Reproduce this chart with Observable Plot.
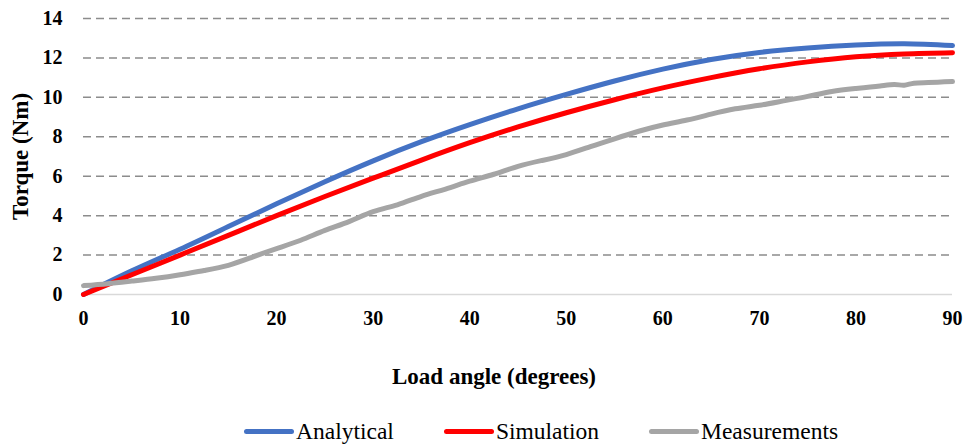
<!DOCTYPE html>
<html><head><meta charset="utf-8">
<script src="https://cdn.jsdelivr.net/npm/d3@7"></script>
<script src="https://cdn.jsdelivr.net/npm/@observablehq/plot@0.6"></script>
<style>
body{margin:0;background:#fff;font-family:"Liberation Serif","Tinos","Nimbus Roman","FreeSerif","Times","DejaVu Serif","Liberation Sans",serif;}
#legend{display:flex;gap:50px;padding-left:244px;height:30px;align-items:center;font-size:23.5px;color:#000;}
.item{display:flex;align-items:center;gap:2px;}
.sw{width:50px;height:5px;border-radius:2.5px;}
</style></head><body>
<div id="chart"></div>
<div id="legend"></div>
<script>
// ---- data ----
const xTicks = [0,10,20,30,40,50,60,70,80,90];
const yTicks = [0,2,4,6,8,10,12,14];
const seriesNames = ["Analytical","Simulation","Measurements"];
const seriesColors = ["#4472C4","#FF0000","#A5A5A5"];

const modelAngles = [0,5,10,15,20,25,30,35,40,45,50,55,60,65,70,75,80,85,90];
const analytical = [0,1.2,2.3,3.45,4.6,5.72,6.78,7.75,8.62,9.42,10.15,10.83,11.43,11.92,12.28,12.5,12.65,12.72,12.63];
const simulation = [0,1.0,2.0,3.0,4.0,4.97,5.9,6.82,7.7,8.5,9.22,9.88,10.48,11.0,11.45,11.8,12.06,12.2,12.26];

const measAngles = [0,2.5,5,7.5,10,12.5,15,17.5,20,22.5,25,27.5,30,32.5,35,37.5,40,42.5,45,47.5,50,52.5,55,57.5,60,62.5,65,67.5,70,72.5,75,77.5,80,82.5,84,85,86,87.5,90];
const measurements = [0.45,0.55,0.68,0.82,1.0,1.22,1.48,1.9,2.33,2.75,3.25,3.7,4.2,4.55,4.98,5.35,5.75,6.1,6.5,6.8,7.1,7.5,7.9,8.28,8.6,8.85,9.15,9.42,9.6,9.82,10.05,10.3,10.45,10.58,10.65,10.62,10.72,10.75,10.8];

const xLabel = "Load angle (degrees)";
const yLabel = "Torque (Nm)";

// ---- tables ----
const rows = [
  ...modelAngles.map((a,i)=>({s:seriesNames[0],x:a,y:analytical[i]})),
  ...modelAngles.map((a,i)=>({s:seriesNames[1],x:a,y:simulation[i]})),
  ...measAngles.map((a,i)=>({s:seriesNames[2],x:a,y:measurements[i]}))
];

const FONT = "'Liberation Serif','Tinos','Nimbus Roman','FreeSerif','Times','DejaVu Serif','Liberation Sans',serif";
const plot = Plot.plot({
  width:964, height:416,
  marginLeft:83, marginRight:12, marginTop:18, marginBottom:122,
  style:{fontFamily:FONT, background:"#fff", color:"#000", overflow:"visible"},
  x:{domain:[0,90]},
  y:{domain:[0,14]},
  color:{domain:seriesNames, range:seriesColors},
  marks:[
    Plot.ruleY(yTicks.filter(d=>d>0), {stroke:"#8c8c8c", strokeWidth:1.5, strokeDasharray:"8,5"}),
    Plot.ruleY([0], {stroke:"#d9d9d9", strokeWidth:1.5}),
    ...seriesNames.map(n => Plot.line(rows.filter(r=>r.s===n), {x:"x", y:"y", stroke:"s", strokeWidth:5, curve:"natural"})),
    Plot.axisX({ticks:xTicks, tickSize:0, tickPadding:16, fontSize:20, fontWeight:"bold", fontFamily:FONT, label:null}),
    Plot.axisY({ticks:yTicks, tickSize:0, tickPadding:21, fontSize:20, fontWeight:"bold", fontFamily:FONT, label:null}),
    Plot.text([xLabel], {frameAnchor:"bottom", dx:-24, dy:82, text:d=>d, fontSize:23, fontWeight:"bold", fontFamily:FONT, textAnchor:"middle", lineAnchor:"middle", fill:"#000"}),
    Plot.text([yLabel], {frameAnchor:"left", dx:-63, rotate:-90, text:d=>d, fontSize:23, fontWeight:"bold", fontFamily:FONT, textAnchor:"middle", lineAnchor:"middle", fill:"#000"})
  ]
});
document.getElementById("chart").appendChild(plot);

const leg = document.getElementById("legend");
seriesNames.forEach((n,i)=>{
  const it = document.createElement("div"); it.className="item";
  const sw = document.createElement("div"); sw.className="sw"; sw.style.background=seriesColors[i];
  const t = document.createElement("span"); t.textContent=n;
  it.appendChild(sw); it.appendChild(t); leg.appendChild(it);
});
</script>
</body></html>
